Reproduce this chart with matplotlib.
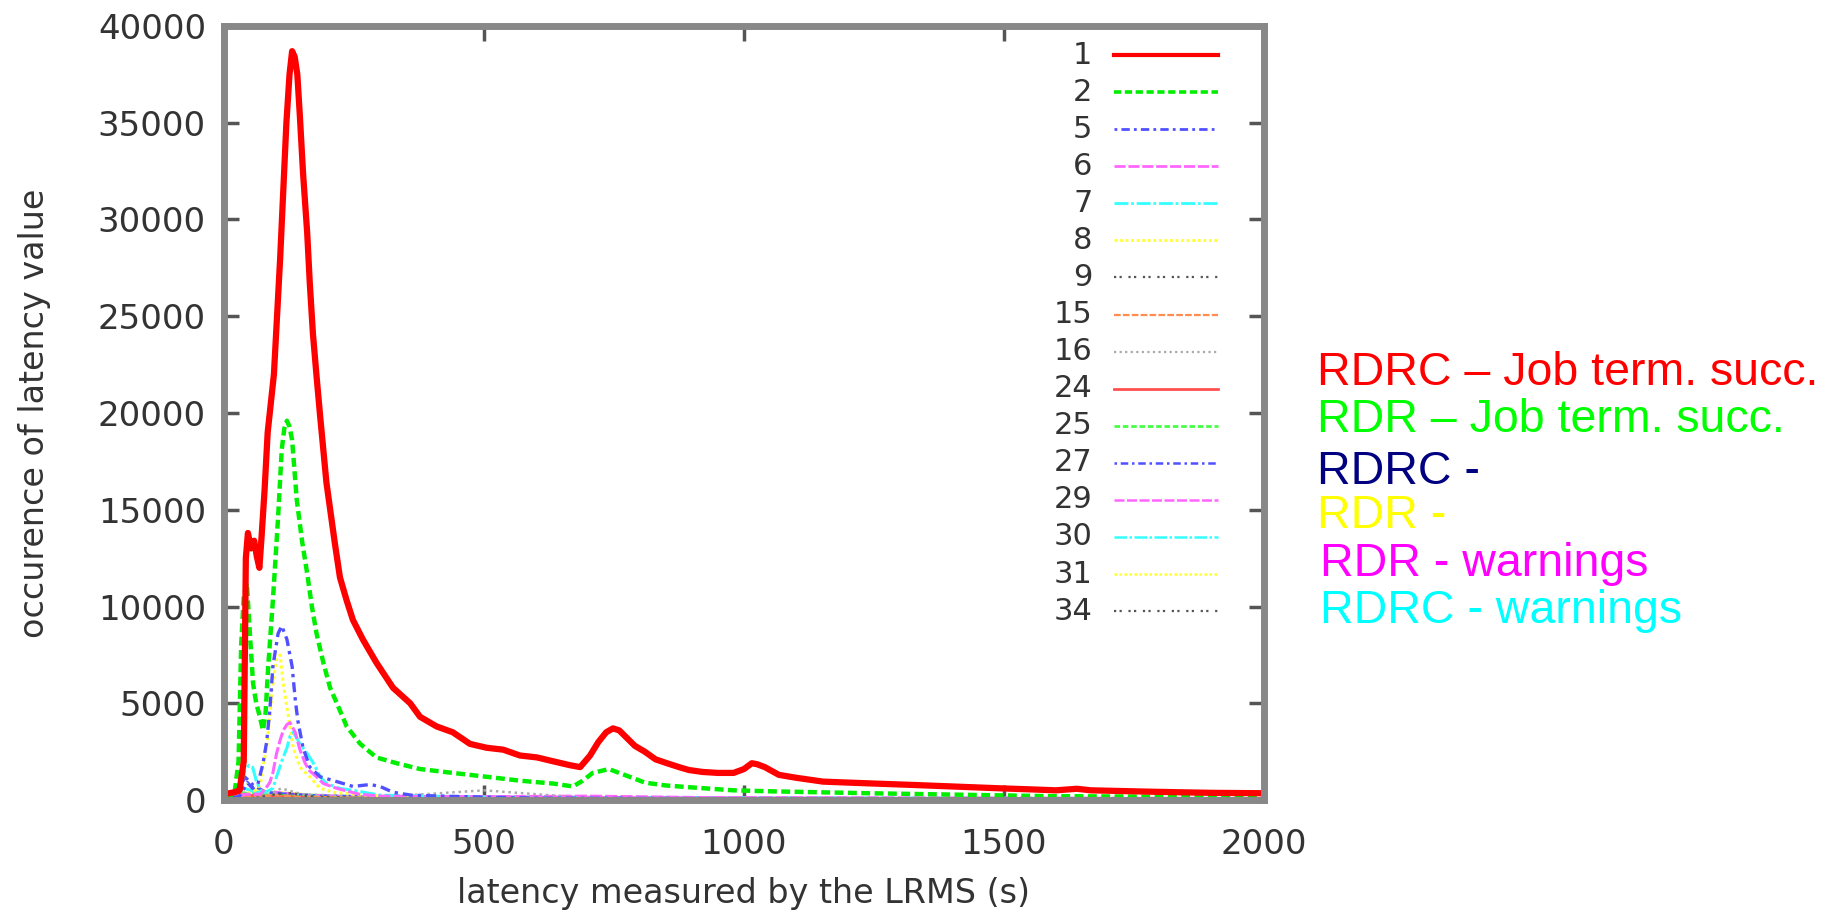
import matplotlib
matplotlib.use("Agg")
import matplotlib.pyplot as plt

# series (latency in s, occurrences)
x1 = [0, 10, 20, 30, 38, 42, 46, 52, 58, 63, 68, 72, 78, 84, 90, 96, 102, 108, 114, 120, 126, 131,
      136, 141, 146, 152, 160, 165, 171, 178, 185, 197, 213, 223, 236, 248, 267, 293, 325, 358, 377,
      409, 440, 473, 505, 537, 569, 602, 633, 665, 685, 704, 720, 735, 748, 760, 775, 790, 809, 830,
      852, 875, 894, 920, 950, 980, 1000, 1015, 1025, 1040, 1067, 1100, 1152, 1200, 1250, 1323, 1400,
      1496, 1550, 1600, 1640, 1667, 1700, 1780, 1838, 1900, 2000]
y1 = [300, 350, 400, 500, 2000, 12500, 13800, 13000, 13400, 12600, 12000, 13500, 16000, 19000, 20500,
      22000, 25000, 28000, 31500, 35000, 37500, 38700, 38400, 37500, 35300, 32400, 29300, 26700, 24100,
      21900, 19800, 16400, 13300, 11500, 10300, 9300, 8300, 7100, 5800, 5000, 4300, 3800, 3500, 2900,
      2700, 2600, 2300, 2200, 2000, 1800, 1700, 2300, 3000, 3500, 3700, 3600, 3200, 2800, 2500, 2100,
      1900, 1700, 1550, 1450, 1400, 1400, 1600, 1900, 1850, 1700, 1300, 1150, 950, 900, 850, 780, 700,
      600, 550, 500, 580, 500, 480, 430, 400, 370, 350]

x2 = [0, 10, 20, 28, 33, 38, 44, 50, 56, 62, 69, 75, 80, 85, 94, 104, 111, 116, 121, 126, 131, 140,
      150, 160, 169, 178, 191, 204, 217, 236, 262, 293, 332, 377, 440, 505, 569, 633, 671, 690, 709,
      725, 740, 760, 790, 809, 850, 900, 980, 1050, 1238, 1400, 1582, 1800, 2000]
y2 = [100, 200, 300, 2000, 8000, 10500, 11200, 8500, 6000, 5000, 4300, 3600, 4500, 6900, 10300, 14600,
      18100, 19200, 19600, 19300, 18600, 15500, 13400, 11700, 10000, 8600, 7100, 5800, 5000, 3800, 2900,
      2200, 1900, 1600, 1400, 1200, 1000, 850, 700, 1000, 1400, 1500, 1600, 1400, 1100, 900, 750, 650,
      500, 450, 350, 280, 200, 170, 150]

x5 = [0, 30, 45, 55, 65, 75, 82, 88, 94, 104, 111, 121, 131, 137, 142, 152, 165, 185, 217, 248, 281,
      300, 325, 360, 420, 500, 600, 800, 1000, 1500, 2000]
y5 = [0, 200, 900, 600, 800, 1900, 3000, 4600, 6900, 8600, 9000, 8300, 6900, 5200, 4100, 2700, 1700,
      1200, 950, 700, 800, 700, 400, 250, 200, 150, 100, 80, 60, 40, 30]

x6 = [0, 40, 70, 80, 88, 94, 101, 108, 114, 121, 127, 137, 146, 156, 165, 178, 191, 217, 260, 300, 400,
      600, 800, 1000, 1500, 2000]
y6 = [0, 300, 300, 600, 900, 1400, 2400, 3100, 3600, 3900, 4000, 3500, 2600, 1900, 1500, 1200, 850, 600,
      300, 200, 180, 150, 120, 120, 100, 80]

x7 = [0, 30, 40, 48, 55, 62, 70, 80, 94, 101, 111, 121, 127, 133, 140, 146, 160, 172, 185, 197, 223,
      248, 300, 400, 500, 700, 1000, 2000]
y7 = [0, 500, 1500, 1800, 1700, 1000, 500, 400, 600, 1200, 2000, 2700, 3300, 3500, 3200, 2900, 2400,
      1900, 1200, 850, 600, 500, 250, 200, 150, 100, 80, 50]

x8 = [0, 40, 60, 70, 75, 82, 88, 95, 101, 108, 114, 121, 127, 133, 146, 165, 185, 210, 250, 300, 400,
      600, 1000, 2000]
y8 = [0, 300, 500, 800, 1700, 2700, 4300, 6200, 7300, 7500, 6000, 4800, 3800, 2700, 1700, 1200, 600,
      400, 300, 200, 120, 80, 50, 30]

x9 = [0, 60, 100, 130, 160, 250, 500, 1000, 2000]
y9 = [0, 100, 300, 350, 200, 100, 60, 40, 20]
x15 = [0, 50, 100, 150, 300, 1000, 2000]
y15 = [0, 150, 250, 150, 80, 40, 20]
x16 = [0, 80, 110, 150, 300, 500, 700, 1000, 2000]
y16 = [0, 200, 600, 300, 150, 500, 100, 50, 30]
x24 = [0, 30, 60, 120, 200, 500, 1000, 2000]
y24 = [0, 300, 200, 150, 100, 60, 40, 30]
x25 = [0, 30, 50, 120, 200, 500, 2000]
y25 = [0, 400, 300, 200, 120, 60, 30]
x27 = [0, 30, 40, 55, 80, 120, 200, 500, 2000]
y27 = [0, 400, 1200, 800, 400, 300, 200, 100, 50]
x29 = [0, 40, 100, 150, 300, 700, 1000, 2000]
y29 = [0, 150, 400, 250, 150, 200, 100, 60]
x30 = [0, 40, 60, 120, 200, 500, 2000]
y30 = [0, 600, 400, 300, 200, 150, 60]
x31 = [0, 25, 35, 50, 100, 200, 500, 2000]
y31 = [0, 600, 1500, 600, 400, 200, 100, 40]
x34 = [0, 100, 150, 500, 2000]
y34 = [0, 100, 150, 50, 20]

labels = ["1", "2", "5", "6", "7", "8", "9", "15", "16", "24", "25", "27", "29", "30", "31", "34"]
xs = [x1, x2, x5, x6, x7, x8, x9, x15, x16, x24, x25, x27, x29, x30, x31, x34]
ys = [y1, y2, y5, y6, y7, y8, y9, y15, y16, y24, y25, y27, y29, y30, y31, y34]

notes = ["RDRC \u2013 Job term. succ.", "RDR \u2013 Job term. succ.", "RDRC -", "RDR -",
         "RDR - warnings", "RDRC - warnings"]

# styles
colors = ["#ff0000", "#00ee00", "#5050ff", "#ff66ff", "#33ffff", "#ffff33", "#555555", "#ff8c50",
          "#aaaaaa", "#ff5050", "#44ff44", "#5050ff", "#ff66ff", "#33ffff", "#ffff33", "#555555"]
dashes = [None, (2, 1), (1, 1.5, 3, 1.5), (4, 1), (5, 1, 1, 1), (1, 1), (1, 1.5, 1, 3), (3, 1),
          (1, 1.5), None, (2, 1), (1, 1.5, 3, 1.5), (4, 1), (5, 1, 1, 1), (1, 1), (1, 1.5, 1, 3)]
widths = [4.5, 3.2, 2.4, 2.2, 2.2, 2.2, 1.8, 1.8, 1.8, 2.4, 2.4, 2.2, 2.2, 2.2, 2.2, 1.8]
key_widths = [3, 2.6, 2, 2, 2, 2, 1.6, 1.6, 1.6, 2, 2, 1.8, 1.8, 1.8, 1.8, 1.6]
note_colors = ["#ff0000", "#00ff00", "#000080", "#ffff00", "#ff00ff", "#00ffff"]

txt = "#333333"
fig = plt.figure(figsize=(18.49, 9.13), dpi=100)
ax = fig.add_axes([224 / 1849, 1 - 800 / 913, 1040 / 1849, 774 / 913])

order = list(range(len(labels)))[::-1]
for i in order:
    line, = ax.plot(xs[i], ys[i], color=colors[i], lw=widths[i], zorder=3 + (len(labels) - i))
    if dashes[i] is not None:
        line.set_dashes(dashes[i])

# gnuplot-style key, labels right-aligned left of the samples
for i, lab in enumerate(labels):
    yy = 0.9625 - i * 0.0479
    ax.text(0.835, yy, lab, transform=ax.transAxes, ha="right", va="center", fontsize=22, color=txt)
    ln, = ax.plot([0.856, 0.956], [yy, yy], transform=ax.transAxes, color=colors[i], lw=key_widths[i])
    if dashes[i] is not None:
        ln.set_dashes(dashes[i])

ax.set_xlim(0, 2000)
ax.set_ylim(0, 40000)
ax.set_xticks([0, 500, 1000, 1500, 2000])
ax.set_yticks(range(0, 40001, 5000))
ax.tick_params(direction="in", length=11, width=2.5, color="#555555", labelsize=24.5,
               labelcolor=txt, top=True, right=True)
ax.tick_params(axis="x", pad=20)
ax.tick_params(axis="y", pad=13)
for s in ax.spines.values():
    s.set_color("#888888")
    s.set_linewidth(5)
    s.set_zorder(30)

ax.set_xlabel("latency measured by the LRMS (s)", fontsize=24, color=txt, labelpad=12)
ax.set_ylabel("occurence of latency value", fontsize=24, color=txt)
ax.yaxis.set_label_coords(-0.166, 0.5)

note_y = [373, 420, 472, 516, 564, 611]
note_x = [1317, 1317, 1317, 1317, 1320, 1320]
for t, c, nx, ny in zip(notes, note_colors, note_x, note_y):
    fig.text(nx / 1849, 1 - ny / 913, t, color=c, fontsize=33.5, family="Liberation Sans",
             ha="left", va="center")

fig.savefig("out.png", dpi=100)
